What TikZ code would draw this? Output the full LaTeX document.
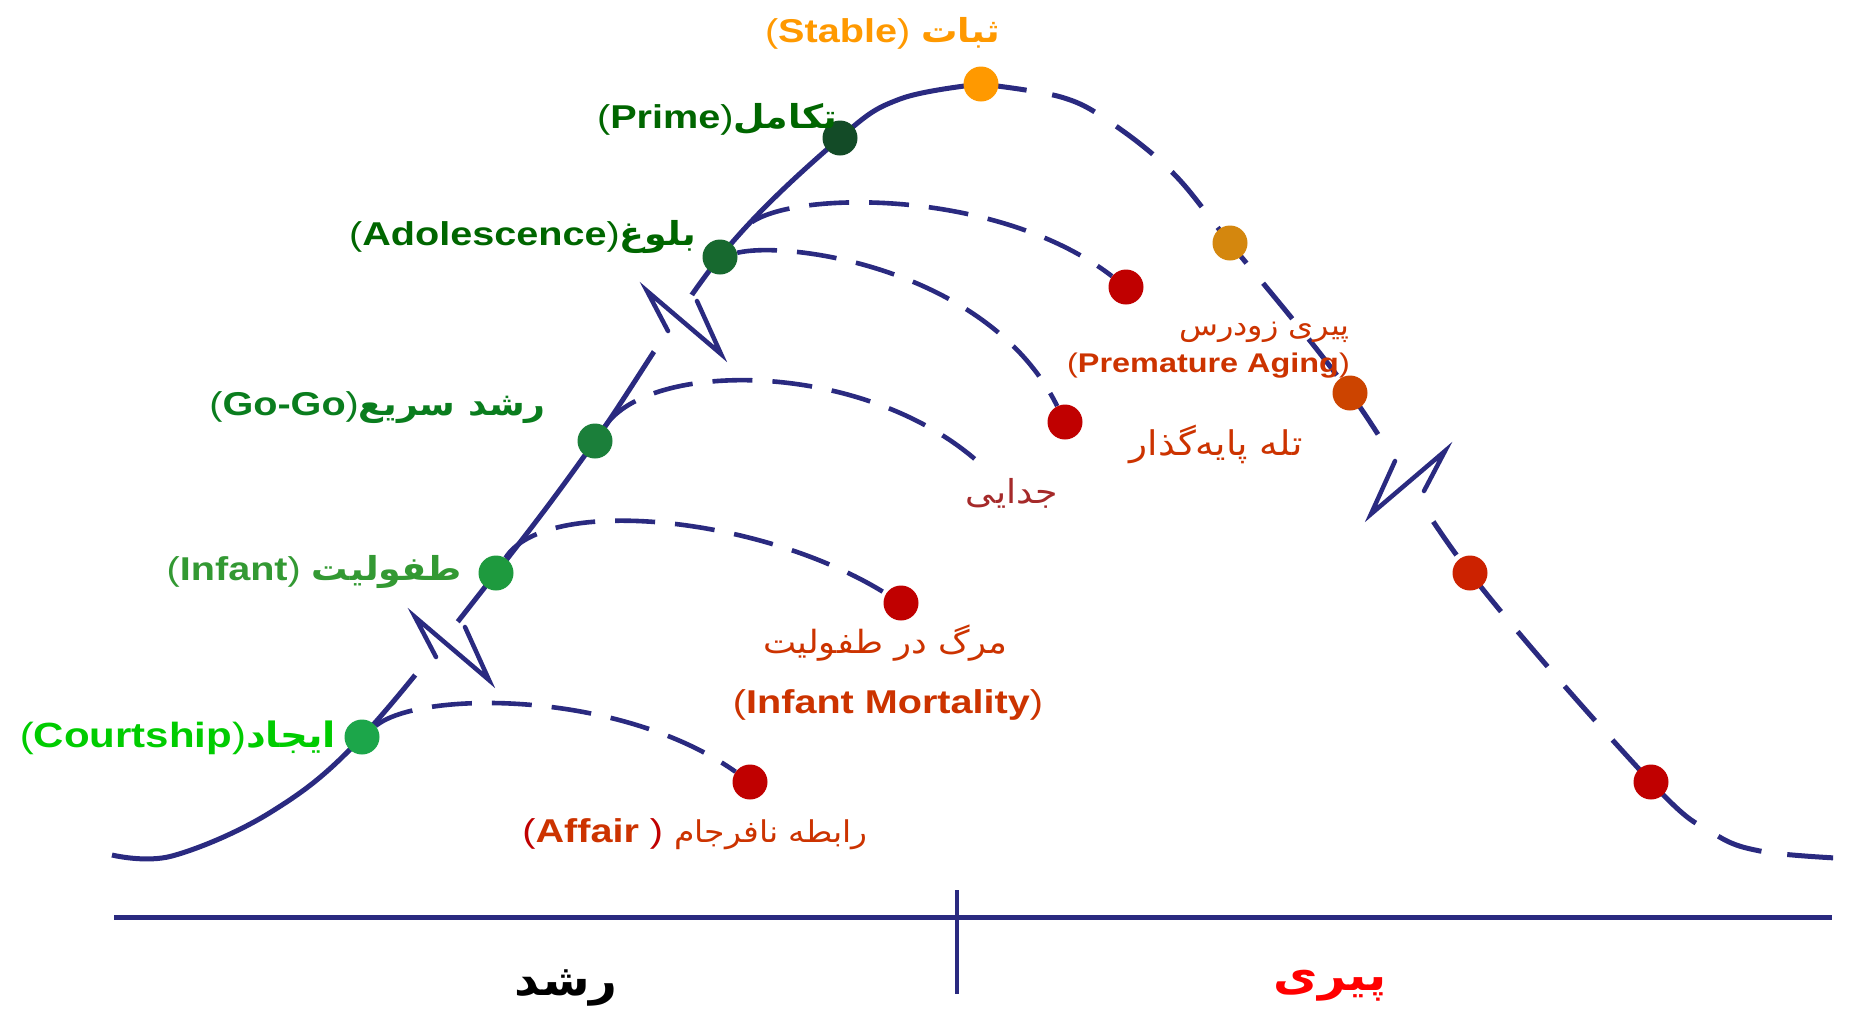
\documentclass[tikz,border=0pt]{standalone}
\usepackage{fontspec}
\setmainfont{Liberation Sans}[FakeStretch=1.2]
\newfontfamily\fa{DejaVu Sans}[Script=Arabic,FakeStretch=1.1]
\TeXXeTstate=1
\usetikzlibrary{calc}
\definecolor{navy}{HTML}{2A2A80}
\definecolor{stableC}{HTML}{FF9900}
\definecolor{primeT}{HTML}{006600}
\definecolor{primeD}{HTML}{134B27}
\definecolor{adolT}{HTML}{006600}
\definecolor{adolD}{HTML}{17692F}
\definecolor{gogoT}{HTML}{0A7D1E}
\definecolor{gogoD}{HTML}{1B7F3A}
\definecolor{infT}{HTML}{339933}
\definecolor{infD}{HTML}{1E9A3E}
\definecolor{courtT}{HTML}{00CC00}
\definecolor{courtD}{HTML}{1CA64A}
\definecolor{deadR}{HTML}{C00000}
\definecolor{txtR}{HTML}{CC3300}
\definecolor{divR}{HTML}{A52A2A}
\definecolor{agA}{HTML}{D4870E}
\definecolor{agB}{HTML}{CC4400}
\definecolor{agC}{HTML}{CC2200}
\definecolor{agD}{HTML}{C00000}
\begin{document}
\begin{tikzpicture}[x=1pt,y=-1pt,
  dot/.style={circle,inner sep=0pt,minimum size=35pt},
  maincurve/.style={draw=navy,line width=5pt},
  branch/.style={draw=navy,line width=4.6pt,dash pattern=on 40pt off 20pt},
  zig/.style={draw=navy,line width=4.5pt,line cap=round,line join=miter},
  lbl/.style={inner sep=0pt},
  eng/.style={font=\fontsize{33}{38}\selectfont\bfseries},
  engs/.style={font=\fontsize{27}{32}\selectfont\bfseries}]
\useasboundingbox (0,0) rectangle (1849,1013);
\fill[white] (0,0) rectangle (1849,1013);

% main curve: growth (solid) and aging (dashed)
\draw[maincurve] plot[smooth,tension=0.6] coordinates {(112,855) (172,856) (271,812) (362,737) (496,573) (595,441) (720,257) (840,138) (900,99) (981,84)};
\draw[maincurve,dash pattern=on 46pt off 26pt] plot[smooth,tension=0.6] coordinates {(981,84) (1061,97) (1110,122) (1172,172) (1230,243) (1350,393) (1470,573) (1651,782) (1713,833) (1760,851) (1836,858)};

% dot positions
\coordinate (pCourt) at (362,737);
\coordinate (pInf) at (496,573);
\coordinate (pGo) at (595,441);
\coordinate (pAdol) at (720,257);
\coordinate (pPrime) at (840,138);
\coordinate (pStable) at (981,84);
\coordinate (pA1) at (1230,243);
\coordinate (pA2) at (1350,393);
\coordinate (pA3) at (1470,573);
\coordinate (pA4) at (1651,782);
\coordinate (pAffair) at (750,782);
\coordinate (pMort) at (901,603);
\coordinate (pTrap) at (1065,422);
\coordinate (pPrem) at (1126,287);
\coordinate (divend) at (976,460);
\coordinate (split) at (752,222);

\node[dot] (court) at (pCourt) {};
\node[dot] (inf) at (pInf) {};
\node[dot] (gogo) at (pGo) {};
\node[dot] (adol) at (pAdol) {};
\node[dot] (affair) at (pAffair) {};
\node[dot] (mort) at (pMort) {};
\node[dot] (trap) at (pTrap) {};
\node[dot] (prem) at (pPrem) {};

% branches
\draw[branch] (court) .. controls (420,690) and (620,690) .. (affair);
\draw[branch] (inf) .. controls (545,495) and (760,515) .. (mort);
\draw[branch] (gogo) .. controls (650,360) and (860,360) .. (divend);
\draw[branch] (adol) .. controls (790,240) and (990,270) .. (trap);
\draw[branch] (split) .. controls (800,190) and (1000,190) .. (prem);

% breaks in the curve
\coordinate (g1) at (436,648);
\coordinate (g2) at (674,324);
\coordinate (g3) at (1406,482);
\coordinate (z1) at (452,648);
\coordinate (z2) at (684,322);
\coordinate (z3) at (1408,482);
\fill[white] (g1) circle[radius=34pt];
\fill[white] (g2) circle[radius=34pt];
\fill[white] (g3) circle[radius=48pt];
\draw[zig] ($(z1)+(13,-21)$) -- ($(z1)+(37,32)$) -- ($(z1)+(-37,-31)$) -- ($(z1)+(-16,9)$);
\draw[zig] ($(z2)+(13,-21)$) -- ($(z2)+(37,32)$) -- ($(z2)+(-37,-31)$) -- ($(z2)+(-16,9)$);
\draw[zig] ($(z3)+(-13,-21)$) -- ($(z3)+(-37,32)$) -- ($(z3)+(37,-31)$) -- ($(z3)+(16,9)$);

% dots on top
\node[dot,fill=courtD] at (court) {};
\node[dot,fill=infD] at (inf) {};
\node[dot,fill=gogoD] at (gogo) {};
\node[dot,fill=adolD] at (adol) {};
\node[dot,fill=primeD] (prime) at (pPrime) {};
\node[dot,fill=stableC] (stable) at (pStable) {};
\node[dot,fill=agA] (a1) at (pA1) {};
\node[dot,fill=agB] (a2) at (pA2) {};
\node[dot,fill=agC] (a3) at (pA3) {};
\node[dot,fill=agD] (a4) at (pA4) {};
\node[dot,fill=deadR] at (affair) {};
\node[dot,fill=deadR] at (mort) {};
\node[dot,fill=deadR] at (trap) {};
\node[dot,fill=deadR] at (prem) {};

% axis
\coordinate (axl) at (114,917);
\coordinate (axr) at (1832,917);
\coordinate (tkT) at (957,890);
\coordinate (tkB) at (957,994);
\draw[navy,line width=5pt] (axl) -- (axr);
\draw[navy,line width=4.5pt] (tkT) -- (tkB);

% stage labels
\node[lbl,eng,text=stableC,anchor=base east] (lStable) at (1000,42) {{\mdseries(}Stable{\mdseries)}\ {\fa\beginR ثبات\endR}};
\node[lbl,eng,text=primeT,anchor=base east] (lPrime) at (837,128) {{\mdseries(}Prime{\mdseries)}{\fa\beginR تکامل\endR}};
\node[lbl,eng,text=adolT,anchor=base east] (lAdol) at (696,245) {{\mdseries(}Adolescence{\mdseries)}{\fa\beginR بلوغ\endR}};
\node[lbl,eng,text=gogoT,anchor=base east] (lGo) at (546,415) {{\mdseries(}Go-Go{\mdseries)}{\fa\beginR رشد سریع\endR}};
\node[lbl,eng,text=infT,anchor=base east] (lInf) at (462,580) {{\mdseries(}Infant{\mdseries)}\ {\fa\beginR طفولیت\endR}};
\node[lbl,font=\fontsize{35}{40}\selectfont\bfseries,text=courtT,anchor=base east] (lCourt) at (336,747) {{\mdseries(}Courtship{\mdseries)}{\fa\beginR ایجاد\endR}};

% trap labels
\node[lbl,eng,text=txtR,anchor=base east] (lAffair) at (868,842) {{\color{deadR}\mdseries(}Affair {\color{deadR}\mdseries)}\ {\fa\mdseries\fontsize{30}{36}\selectfont\beginR رابطه نافرجام\endR}};
\node[lbl,font=\fa\fontsize{32}{38}\selectfont,text=txtR,anchor=base east] (lMortFa) at (1008,653) {\beginR مرگ در طفولیت\endR};
\node[lbl,eng,text=txtR,anchor=base] (lMort) at (888,713) {{\mdseries(}Infant Mortality{\mdseries)}};
\node[lbl,font=\fa\fontsize{33}{38}\selectfont,text=divR,anchor=base east] (lDiv) at (1058,503) {\beginR جدایی\endR};
\node[lbl,font=\fa\fontsize{29}{34}\selectfont,text=txtR,anchor=base east] (lPremFa) at (1350,335) {\beginR پیری زودرس\endR};
\node[lbl,engs,text=txtR,anchor=base east] (lPrem) at (1350,372) {{\mdseries(}Premature Aging{\mdseries)}};
\node[lbl,font=\fa\fontsize{34}{40}\selectfont,text=txtR,anchor=base east] (lTrap) at (1303,455) {\beginR تله پایه‌گذار\endR};

% phase labels
\node[lbl,font=\fa\bfseries\fontsize{44}{50}\selectfont,text=black,anchor=base] (lGrowth) at (566,995) {\beginR رشد\endR};
\node[lbl,font=\fa\bfseries\fontsize{44}{50}\selectfont,text=red,anchor=base] (lAging) at (1330,990) {\beginR پیری\endR};
\end{tikzpicture}
\end{document}
